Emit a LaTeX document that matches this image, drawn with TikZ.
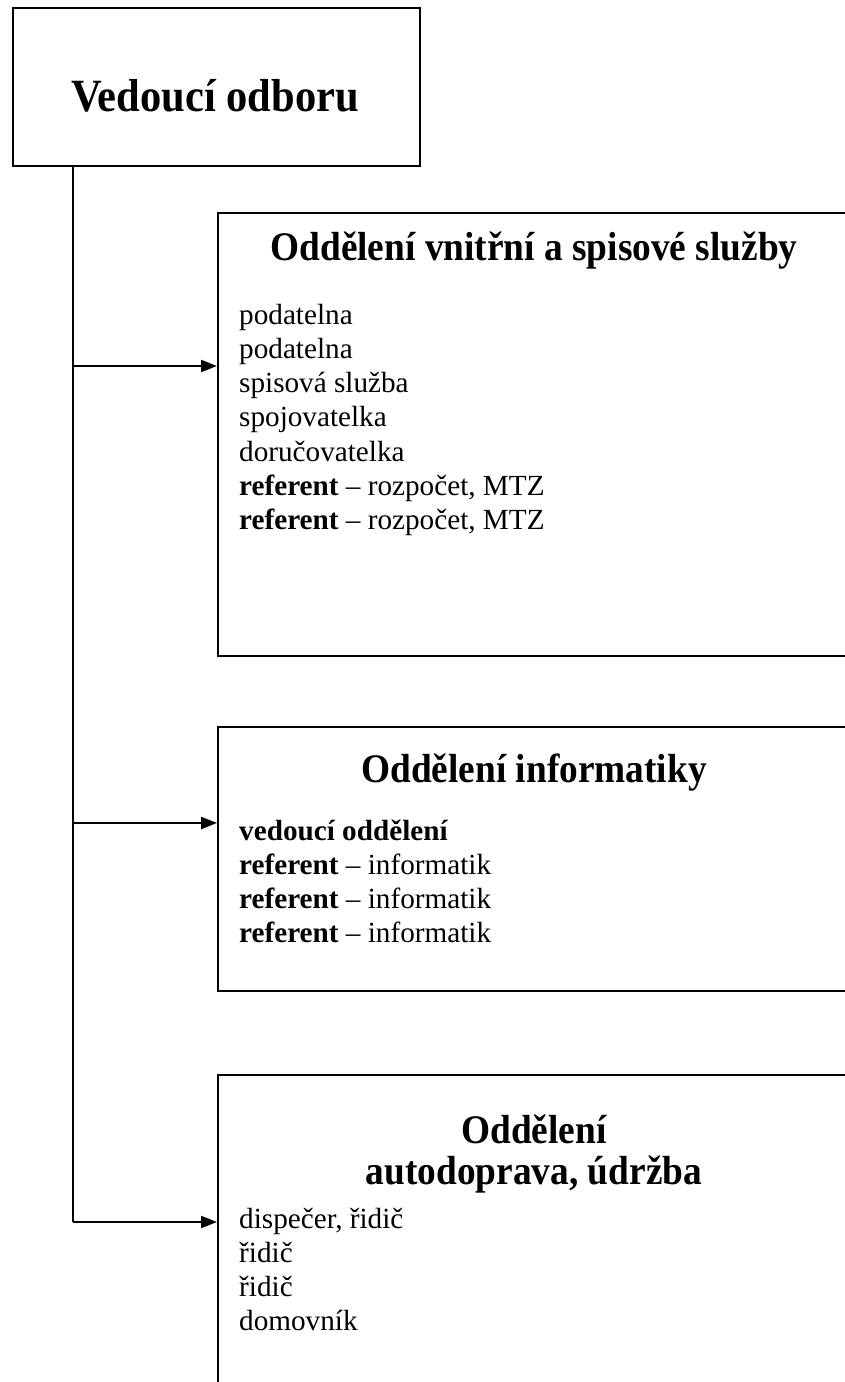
\documentclass[tikz,border=0pt]{standalone}
\usepackage{fontspec}
\setmainfont{Liberation Serif}
\newfontfamily\headserif[FakeStretch=0.92]{Liberation Serif}
\usetikzlibrary{arrows.meta}
\newcommand\bodylines[1]{\parbox[t]{600pt}{\fontsize{29.2}{34.3}\selectfont #1}}
\begin{document}
\begin{tikzpicture}[x=1pt,y=-1pt,
  box/.style={draw, line width=2.4pt, inner sep=0pt, anchor=north west},
  link/.style={line width=2.1pt},
  arr/.style={line width=2.1pt, -{Triangle[length=16pt,width=12pt]}},
  titletext/.style={font=\headserif\bfseries\fontsize{46.2}{50}\selectfont, anchor=base, inner sep=0pt},
  headtext/.style={font=\headserif\bfseries\fontsize{40.6}{43}\selectfont, anchor=base, inner sep=0pt, align=center},
  bodytext/.style={anchor=base west, inner sep=0pt}]
\useasboundingbox (0,0) rectangle (844,1382);
% top box
\node[box, minimum width=407pt, minimum height=158pt] (top) at (12,7) {};
\node[titletext] (toptext) at (215,111) {Vedoucí odboru};
% department boxes
\node[box, minimum width=640pt, minimum height=443pt] (b1) at (217,212) {};
\node[box, minimum width=640pt, minimum height=264pt] (b2) at (217,726) {};
\node[box, minimum width=640pt, minimum height=340pt] (b3) at (217,1074) {};
% headings
\node[headtext] (h1) at (534,260) {Oddělení vnitřní a spisové služby};
\node[headtext] (h2) at (534,782) {Oddělení informatiky};
\node[headtext] (h3a) at (534,1143) {Oddělení};
\node[headtext] (h3b) at (534,1184) {autodoprava, údržba};
% body texts
\node[bodytext] (t1) at (239,324) {\bodylines{podatelna\\podatelna\\spisová služba\\spojovatelka\\doručovatelka\\\textbf{referent} – rozpočet, MTZ\\\textbf{referent} – rozpočet, MTZ}};
\node[bodytext] (t2) at (239,840) {\bodylines{\textbf{vedoucí oddělení}\\\textbf{referent} – informatik\\\textbf{referent} – informatik\\\textbf{referent} – informatik}};
\node[bodytext] (t3) at (239,1228) {\bodylines{dispečer, řidič\\řidič\\řidič\\domovník}};
% connectors
\coordinate (j1) at (73,366);
\coordinate (j2) at (73,823);
\coordinate (j3) at (73,1222);
\draw[link] (top.south -| j3) -- (j3);
\draw[arr] (j1) -- (j1 -| b1.west);
\draw[arr] (j2) -- (j2 -| b2.west);
\draw[arr] (j3) -- (j3 -| b3.west);
\end{tikzpicture}
\end{document}
